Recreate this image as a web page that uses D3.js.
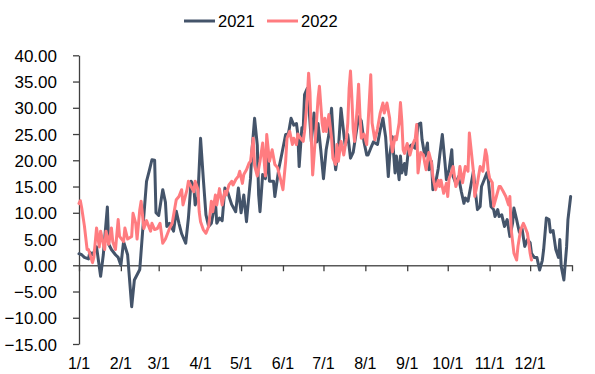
<!DOCTYPE html>
<html><head><meta charset="utf-8">
<script src="https://cdn.jsdelivr.net/npm/d3@7"></script>
<style>
body{margin:0;background:#fff}
svg{display:block}
text{font-family:"Liberation Sans",Arial,sans-serif;fill:#000}
</style>
</head><body><svg id="c" width="595" height="374"></svg>
<script>
const seriesNames = ["2021", "2022"];
const seriesColors = ["#44546A", "#FF7C80"];
// day of year (0 = 1 Jan)
const days2021 = [0,2,4,7,8,10,13,16,18,21,22,24,27,29,31,33,36,39,41,45,47,50,52,54,56,57,59,62,64,65,67,70,72,74,76,79,81,83,85,86,88,90,92,94,96,98,101,102,104,106,108,110,113,116,118,120,122,124,127,128,130,132,133,134,136,138,140,141,144,145,148,150,153,155,157,159,161,162,163,165,166,167,169,170,172,174,176,177,179,181,183,185,187,189,190,192,194,195,197,199,201,203,205,207,209,211,213,214,216,218,221,223,225,227,229,230,232,234,235,237,238,239,241,242,244,246,249,251,253,254,256,258,259,261,262,264,266,267,269,271,272,274,276,277,279,281,283,285,286,288,290,292,293,295,297,298,300,302,303,305,307,308,310,311,313,315,317,319,321,322,324,326,328,330,332,334,335,337,339,341,343,344,346,348,349,351,353,355,356,357,359,361,362,364];
const values2021 = [2.2,2.0,1.5,1.2,2.5,2.0,3.5,-2.1,2.0,11.1,4.0,3.0,2.0,1.5,0.0,4.5,2.0,-7.9,-2.8,-0.8,6.1,16,18,20.1,20,10,9.5,14.4,12,7.4,8,6.5,10.3,8,6,4.2,9,16,15,11.5,13,24.2,16.6,9.6,7.4,8,12.2,8,9,8.5,14.7,14,11.6,10.2,14.7,10,13.4,8.3,16.6,21.7,28.0,22.9,13.4,10.2,17.3,16.5,21,16,16,13.1,18.5,21,24.9,25,28,26.7,27,25,18.8,26.2,26,32.5,33.7,31,23.6,29,23.5,27,22,16.5,22,24.9,29.9,21,18.2,22,29.9,27.5,22.9,24.9,20.4,21.5,24.9,28.3,27.5,23.5,21,21,22.3,23.5,23,25.8,28.0,24.5,16.9,20.8,24.5,17.6,20.8,16.3,20.8,17.6,19.4,17.3,22.3,22.9,22.3,26.8,27.1,23.9,20.8,23.3,18.2,19.8,14.4,15.6,18.5,20.8,24.9,19.4,16.3,18.2,22,16.9,15.6,16.9,14.1,11.8,12.8,12.2,15,17.9,15,10.6,11.2,15,16.3,17.6,16.3,11.2,10.6,9.3,10.6,9.3,9.6,7.4,8.7,5.5,8.0,10.9,8.7,6.3,7.0,3.6,4.9,4.3,2.3,1.5,1.5,-0.9,0.9,3,9,8.7,6.3,6.6,3,1.5,4.9,-0.2,-2.8,3.5,8.7,13.1];
const days2022 = [0,1,2,4,6,7,10,11,13,15,16,18,19,20,22,24,25,27,29,30,33,34,36,39,40,42,43,45,46,48,50,53,54,56,58,60,62,64,67,69,71,72,74,76,77,80,81,83,85,86,88,89,90,92,94,96,98,99,101,102,104,106,108,109,111,113,114,116,118,119,121,122,124,126,127,129,130,132,134,136,138,139,141,143,145,147,149,151,153,154,156,158,159,161,162,164,166,167,169,170,171,172,173,175,177,178,180,181,182,183,185,187,188,190,191,192,194,196,198,199,200,201,202,203,204,206,207,208,209,211,213,214,216,217,219,221,223,225,226,228,230,231,232,234,235,237,238,239,240,241,243,245,247,249,250,251,253,255,256,257,259,261,262,264,266,267,268,270,272,273,274,276,277,279,281,282,284,286,288,289,292,293,295,297,299,301,302,303,304,306,307,309,311,312,314,316,318,319,320,322,324,325,327,329,330,332,333,334,335];
const values2022 = [11.8,12.3,10.9,7.5,3,3,0.5,1.5,7.1,3.5,6.5,4,3,6.5,4,7.1,4.5,3,8.7,5.5,4.5,7.1,5,5.5,9.9,8,5,10.6,12.2,7,8.5,6.5,8,6.8,7,8,4.2,5,7,8,11,12.5,13.1,14.4,11.5,14.4,16.0,15,14,16,14.5,10.2,8.3,6.8,6.1,7.4,12.2,10.2,13.4,11.5,14.6,11.5,14.1,13.4,15.3,16,15.3,16.3,17.0,17.9,15.6,17.3,18.2,19.5,19.8,24.2,19,17,19.8,23.3,17,24.9,19.8,22,19.2,18.6,16.6,14.4,19.8,24.2,25.5,23,24.2,23,25,24.2,23.6,25.5,31.8,36.6,33,24.2,17.2,24.2,31.8,34.1,27.1,25.5,28,25.5,28.7,24.2,20.4,19.2,23,19.8,23.6,21,24.2,27.1,33.7,37,32,26,23.6,30,34.5,28.7,24.2,25,23,27,36.3,27.1,23.9,26,29,30.9,29,30.9,28,23.9,21.6,24.5,23.9,27.1,31,27.5,22,21.3,23.2,21,23,24.2,26.8,17.6,21.5,21,19.5,18.2,21.5,19.5,16.9,14.4,16.2,15,16.2,13.7,15.6,13.1,16.5,17.9,18.8,15,16.5,18.8,15.7,18.8,17.9,25.2,17.9,13.1,15.7,18.8,17.9,22,20.8,17.9,16.6,15.7,11.2,13.1,15,15,14.1,13.1,11.5,13.1,6.8,2.3,1.0,3.6,6.8,8,7.4,6.1,4.3,2.3,1.0];
const monthLabels = ["1/1","2/1","3/1","4/1","5/1","6/1","7/1","8/1","9/1","10/1","11/1","12/1"];
const yTicks = [-15,-10,-5,0,5,10,15,20,25,30,35,40];

const svg = d3.select("#c");
const base = new Date(2021, 0, 1);
const toDate = d => d3.timeDay.offset(base, d);

const x = d3.scaleTime().domain([base, new Date(2022, 0, 1)]).range([79, 572]);
const y = d3.scaleLinear().domain([-15, 40]).range([344, 55.3]);

// Y axis
const yAxis = svg.append("g").attr("transform", "translate(79,0)")
  .call(d3.axisLeft(y).tickValues(yTicks).tickFormat(d3.format(".2f")).tickSize(6).tickSizeOuter(0).tickPadding(16));
yAxis.select(".domain").attr("stroke", "#404040").attr("stroke-width", 1.3);
yAxis.selectAll(".tick line").attr("stroke", "#404040").attr("stroke-width", 1.3);
yAxis.selectAll(".tick text").attr("font-size", 17).attr("font-family", '"Liberation Sans",Arial,sans-serif').attr("fill", "#000").attr("dy", "0.36em");

// X axis at zero
const monthTicks = d3.range(0, 13).map(m => new Date(2021, m, 1));
const xAxis = svg.append("g").attr("transform", `translate(0,${y(0)})`)
  .call(d3.axisBottom(x).tickValues(monthTicks).tickFormat("").tickSize(6).tickSizeOuter(0));
xAxis.select(".domain").attr("stroke", "#595959").attr("stroke-width", 1.5);
xAxis.selectAll(".tick line").attr("stroke", "#404040").attr("stroke-width", 1.3);

svg.append("g").selectAll("text").data(monthLabels).join("text")
  .attr("x", (d, i) => x(monthTicks[i])).attr("y", 369)
  .attr("text-anchor", "middle").attr("font-size", 16).text(d => d);

// Lines
const line = d3.line().x(d => x(toDate(d[0]))).y(d => y(d[1])).curve(d3.curveLinear);
const data = [d3.zip(days2021, values2021), d3.zip(days2022, values2022)];
svg.append("g").selectAll("path").data(data).join("path")
  .attr("d", line).attr("fill", "none")
  .attr("stroke", (d, i) => seriesColors[i]).attr("stroke-width", 3)
  .attr("stroke-linejoin", "round").attr("stroke-linecap", "round");

// Legend
const lg = svg.append("g");
const lx = [184, 267];
seriesNames.forEach((n, i) => {
  lg.append("line").attr("x1", lx[i]).attr("x2", lx[i] + 31).attr("y1", 21).attr("y2", 21)
    .attr("stroke", seriesColors[i]).attr("stroke-width", 3);
  lg.append("text").attr("x", lx[i] + 34).attr("y", 27).attr("font-size", 16.5).text(n);
});
</script></body></html>
